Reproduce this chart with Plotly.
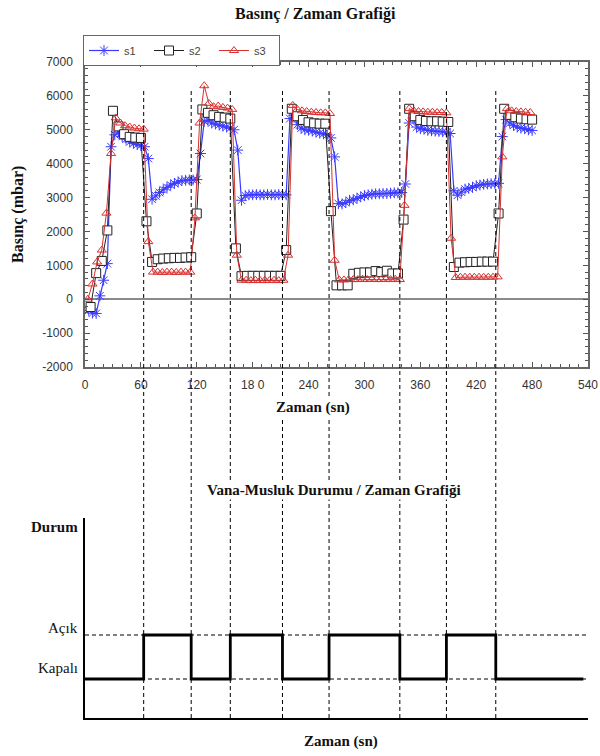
import plotly.graph_objects as go

# ---- pressure measurements (mbar) ----
t_s1 = list(range(4, 481, 4))
s1 = [-330, -410, -420, 100, 560, 1050, 4500, 4850, 4930, 4800,
      4720, 4640, 4600, 4560, 4540, 4500, 4150, 2950, 3050, 3150,
      3230, 3300, 3370, 3420, 3460, 3500, 3510, 3520, 3520, 3530,
      4300, 5250, 5280, 5200, 5170, 5140, 5110, 5080, 5050, 5000,
      4400, 2920, 3060, 3080, 3080, 3090, 3080, 3080, 3090, 3080,
      3080, 3090, 3080, 3080, 5330, 5430, 5150, 5050, 5000, 4990,
      4960, 4930, 4900, 4880, 4850, 4760, 4200, 2820, 2810, 2850,
      2920, 2930, 2980, 3020, 3060, 3080, 3100, 3110, 3110, 3120,
      3120, 3130, 3140, 3140, 3150, 3400, 5200, 5350, 5080, 5030,
      5020, 4985, 4970, 4960, 4950, 4940, 4930, 4890, 3200, 3070,
      3160, 3250, 3270, 3300, 3350, 3370, 3390, 3400, 3410, 3410,
      3420, 4800, 5300, 5200, 5130, 5080, 5050, 5030, 5000, 4980]

t_s2 = list(range(6, 481, 6))
s2 = [-230, 770, 1130, 2030, 5560, 5100, 4870, 4790, 4770, 4760,
      2300, 1100, 1180, 1200, 1210, 1220, 1220, 1230, 1240, 2530,
      5600, 5500, 5430, 5380, 5360, 5330, 1500, 680, 690, 690,
      690, 690, 690, 690, 690, 1450, 5620, 5400, 5290, 5220,
      5190, 5180, 5180, 2600, 410, 410, 410, 750, 780, 790,
      790, 830, 800, 840, 760, 760, 2350, 5620, 5400, 5290,
      5260, 5250, 5250, 5240, 5230, 950, 1080, 1090, 1100, 1100,
      1110, 1110, 1110, 2530, 5620, 5440, 5370, 5330, 5310, 5300]

t_s3 = list(range(3, 479, 5))
s3 = [0, 450, 1100, 1450, 2540, 4300, 5350, 5200, 5120, 5080,
      5050, 5030, 5020, 1700, 800, 800, 790, 800, 800, 790,
      800, 800, 800, 2400, 5200, 6300, 5780, 5680, 5700, 5660,
      5640, 5600, 1300, 560, 560, 550, 560, 550, 560, 550,
      560, 550, 560, 1300, 5720, 5600, 5560, 5540, 5520, 5510,
      5500, 5500, 5480, 1150, 570, 570, 580, 580, 580, 590,
      580, 590, 580, 580, 590, 580, 590, 580, 2770, 5625,
      5560, 5540, 5530, 5520, 5520, 5510, 5510, 5500, 1800, 640,
      650, 650, 650, 650, 650, 650, 650, 650, 660, 4200,
      5625, 5560, 5540, 5530, 5520, 5510]

# ---- valve / tap switching (s) and state (0 = Kapalı, 1 = Açık) ----
switch_times = [63, 114, 156, 212, 262, 338, 388, 441]
valve_t = [0, 63, 114, 156, 212, 262, 338, 388, 441, 535]
valve_state = [0, 1, 0, 1, 0, 1, 0, 1, 0, 0]

x_ticks = [0, 60, 120, 180, 240, 300, 360, 420, 480, 540]
x_ticktext = ["0", "60", "120", "18 0", "240", "300", "360", "420", "480", "540"]
y_ticks = [-2000, -1000, 0, 1000, 2000, 3000, 4000, 5000, 6000, 7000]
y_ticktext = ["-2000", "-1000", "0", "1000", "2000", "3000", "4000", "5000", "6000", "7000"]

W, H = 600, 756


def py(px):
    """pixel row (from top) -> paper y"""
    return (H - px) / H


SANS = "Liberation Sans, Arial, sans-serif"
SERIF = "Liberation Serif, Times New Roman, serif"

fig = go.Figure()

fig.add_trace(go.Scatter(
    x=t_s1, y=s1, name="s1", mode="lines+markers",
    line=dict(color="#3a3aff", width=1.2),
    marker=dict(symbol="asterisk-open", size=9,
                line=dict(color="#1010ee", width=1)),
    xaxis="x", yaxis="y"))
fig.add_trace(go.Scatter(
    x=t_s2, y=s2, name="s2", mode="lines+markers",
    line=dict(color="#222222", width=1),
    marker=dict(symbol="square", size=9, color="white",
                line=dict(color="#222222", width=1)),
    xaxis="x", yaxis="y"))
fig.add_trace(go.Scatter(
    x=t_s3, y=s3, name="s3", mode="lines+markers",
    line=dict(color="#d93030", width=1),
    marker=dict(symbol="triangle-up-open", size=8,
                line=dict(color="#d93030", width=1)),
    xaxis="x", yaxis="y"))

# valve state step curve
fig.add_trace(go.Scatter(
    x=valve_t, y=valve_state, mode="lines", line_shape="hv",
    line=dict(color="black", width=2.8), showlegend=False,
    xaxis="x2", yaxis="y2"))

xdom = [85 / W, 588 / W]

fig.update_layout(
    width=W, height=H,
    margin=dict(l=0, r=0, t=0, b=0, autoexpand=False),
    paper_bgcolor="white", plot_bgcolor="white",
    showlegend=True,
    legend=dict(orientation="h", x=83 / W, y=py(35), xanchor="left", yanchor="top",
                bgcolor="white", bordercolor="#666", borderwidth=1,
                font=dict(family=SANS, size=11, color="#444"),
                entrywidth=20, tracegroupgap=0),
    xaxis=dict(domain=xdom, range=[0, 540], anchor="y", automargin=False,
               tickvals=x_ticks, ticktext=x_ticktext,
               ticks="inside", ticklen=5, tickcolor="#555",
               minor=dict(dtick=10, ticks="inside", ticklen=3, tickcolor="#555"),
               showline=True, linecolor="#666", linewidth=1.5, mirror="ticks",
               showgrid=False, zeroline=False, ticklabelstandoff=6,
               tickfont=dict(family=SANS, size=12, color="#333")),
    yaxis=dict(domain=[py(367), py(62)], range=[-2000, 7000], anchor="x",
               automargin=False,
               tickvals=y_ticks, ticktext=y_ticktext,
               ticks="inside", ticklen=5, tickcolor="#555",
               minor=dict(dtick=200, ticks="inside", ticklen=3, tickcolor="#555"),
               showline=True, linecolor="#666", linewidth=1.5, mirror="ticks",
               showgrid=False, zeroline=True, zerolinecolor="#8a8a8a", zerolinewidth=2,
               ticklabelstandoff=8,
               tickfont=dict(family=SANS, size=12, color="#333")),
    xaxis2=dict(domain=xdom, range=[0, 540], anchor="y2", automargin=False,
                showticklabels=False, ticks="", showgrid=False, zeroline=False,
                showline=True, linecolor="black", linewidth=2),
    yaxis2=dict(domain=[py(718), py(518)], range=[-0.886, 3.659], anchor="x2",
                automargin=False,
                showticklabels=False, ticks="", showgrid=False, zeroline=False,
                showline=True, linecolor="black", linewidth=2),
)

shapes = []
# switching instants, running through both charts
for ts in switch_times:
    shapes.append(dict(type="line", xref="x", yref="paper",
                       x0=ts, x1=ts, y0=py(718), y1=py(88),
                       line=dict(color="black", width=1, dash="4px,3px")))
# Açık / Kapalı reference levels
for lvl in (0, 1):
    shapes.append(dict(type="line", xref="x2 domain", yref="y2",
                       x0=0, x1=1, y0=lvl, y1=lvl,
                       line=dict(color="black", width=1, dash="4px,3px")))
fig.update_layout(shapes=shapes)

ann = [
    dict(text="<b>Basınç / Zaman Grafiği</b>", x=316 / W, y=py(14),
         font=dict(family=SERIF, size=16, color="#111")),
    dict(text="<b>Zaman (sn)</b>", x=313 / W, y=py(407), bgcolor="white",
         font=dict(family=SERIF, size=15, color="#111")),
    dict(text="<b>Basınç (mbar)</b>", x=18 / W, y=py(215), textangle=-90,
         font=dict(family=SERIF, size=16, color="#111")),
    dict(text="<b>Vana-Musluk Durumu / Zaman Grafiği</b>", x=334 / W, y=py(490),
         bgcolor="white", font=dict(family=SERIF, size=15, color="#111")),
    dict(text="<b>Durum</b>", x=80 / W, y=py(527), xanchor="right",
         font=dict(family=SERIF, size=15, color="#111")),
    dict(text="Açık", x=80 / W, y=py(628), xanchor="right",
         font=dict(family=SERIF, size=15, color="#111")),
    dict(text="Kapalı", x=80 / W, y=py(668), xanchor="right",
         font=dict(family=SERIF, size=15, color="#111")),
    dict(text="<b>Zaman (sn)</b>", x=341 / W, y=py(741),
         font=dict(family=SERIF, size=15, color="#111")),
]
for a in ann:
    a.setdefault("xanchor", "center")
    a.update(xref="paper", yref="paper", yanchor="middle", showarrow=False)
fig.update_layout(annotations=ann)

fig.write_html("out.html")
